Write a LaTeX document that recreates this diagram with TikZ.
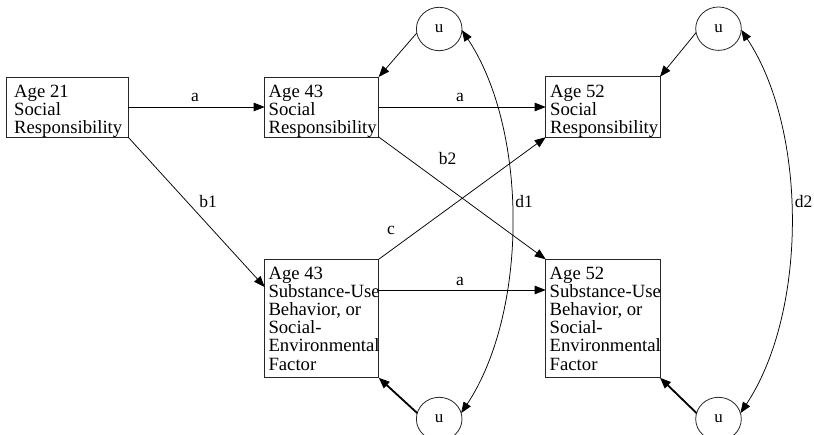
\documentclass[tikz,border=0pt]{standalone}
\usepackage{fontspec}
\setmainfont{Liberation Serif}
\usetikzlibrary{arrows.meta,shapes.geometric,calc}
\begin{document}
\begin{tikzpicture}[x=1pt,y=-1pt,
  box/.style={draw=black!85, line width=0.9pt, rectangle, inner sep=0pt, outer sep=0pt},
  txt/.style={anchor=north west, inner sep=0pt, align=left, font=\fontsize{18.7}{18.2}\selectfont},
  lab/.style={inner sep=0pt, font=\fontsize{17.5}{18}\selectfont},
  uell/.style={draw=black!85, ellipse, line width=0.8pt, minimum width=45.6pt, minimum height=43.4pt, inner sep=0pt, outer sep=0pt, font=\fontsize{17}{18}\selectfont},
  arr/.style={-{Triangle[length=11pt,width=8.5pt]}, line width=0.75pt},
  thickarr/.style={-{Triangle[length=11pt,width=8.5pt]}, line width=1.8pt},
  dblarr/.style={{Triangle[length=11pt,width=8.5pt]}-{Triangle[length=11pt,width=8.5pt]}, line width=0.75pt}
]
\useasboundingbox (0,0) rectangle (814,435);

% boxes
\node[box, minimum width=121.3pt, minimum height=60pt] (b21) at (67.35,107) {};
\node[box, minimum width=114pt, minimum height=60pt] (b43s) at (321.7,107) {};
\node[box, minimum width=114pt, minimum height=118.4pt] (b43u) at (321.7,318.5) {};
\node[box, minimum width=114.3pt, minimum height=60.6pt] (b52s) at (602.85,107) {};
\node[box, minimum width=114.3pt, minimum height=118.4pt] (b52u) at (602.85,318.5) {};

% box texts
\node[txt] (t21) at (14,84.5) {Age 21\\Social\\Responsibility};
\node[txt] (t43s) at (268.5,84.5) {Age 43\\Social\\Responsibility};
\node[txt] (t43u) at (268.3,266.5) {Age 43\\Substance-Use\\Behavior, or\\Social-\\Environmental\\Factor};
\node[txt] (t52s) at (550,84.5) {Age 52\\Social\\Responsibility};
\node[txt] (t52u) at (549.5,266.5) {Age 52\\Substance-Use\\Behavior, or\\Social-\\Environmental\\Factor};

% error terms
\node[uell] (u1) at (439.2,29) {u};
\node[uell] (u2) at (718.5,28.7) {u};
\node[uell] (u3) at (439.2,419) {u};
\node[uell] (u4) at (718.5,419) {u};

% paths
\draw[arr] (b21.east) -- (b43s.west);
\draw[arr] (b43s.east) -- (b52s.west);
\draw[arr] ($(b43u.north east)+(0,30.7)$) -- ($(b52u.north west)+(0,30.7)$);
\draw[arr] (b21.south east) -- ($(b43u.north west)+(0,27.7)$);
\draw[arr] (b43s.south east) -- (b52u.north west);
\draw[arr] (b43u.north east) -- (b52s.south west);
\draw[arr] (u1.190) -- (b43s.north east);
\draw[arr] (u2.190) -- (b52s.north east);
\draw[thickarr] (u3.165) -- (b43u.south east);
\draw[thickarr] (u4.165) -- (b52u.south east);
\draw[dblarr] (u3.15) .. controls (528.3,312) and (528.3,130) .. (u1.-3);
\draw[dblarr] (u4.15) .. controls (807.6,312) and (807.6,130) .. (u2.-3);

% labels
\node[lab] (la1) at (195,97.5) {a};
\node[lab] (la2) at (460,97.5) {a};
\node[lab] (la3) at (460,281) {a};
\node[lab] (lb1) at (208,201.5) {b1};
\node[lab] (lb2) at (447.5,159) {b2};
\node[lab] (lc) at (391,230.5) {c};
\node[lab] (ld1) at (524,201.7) {d1};
\node[lab] (ld2) at (803.5,201.7) {d2};
\end{tikzpicture}
\end{document}
